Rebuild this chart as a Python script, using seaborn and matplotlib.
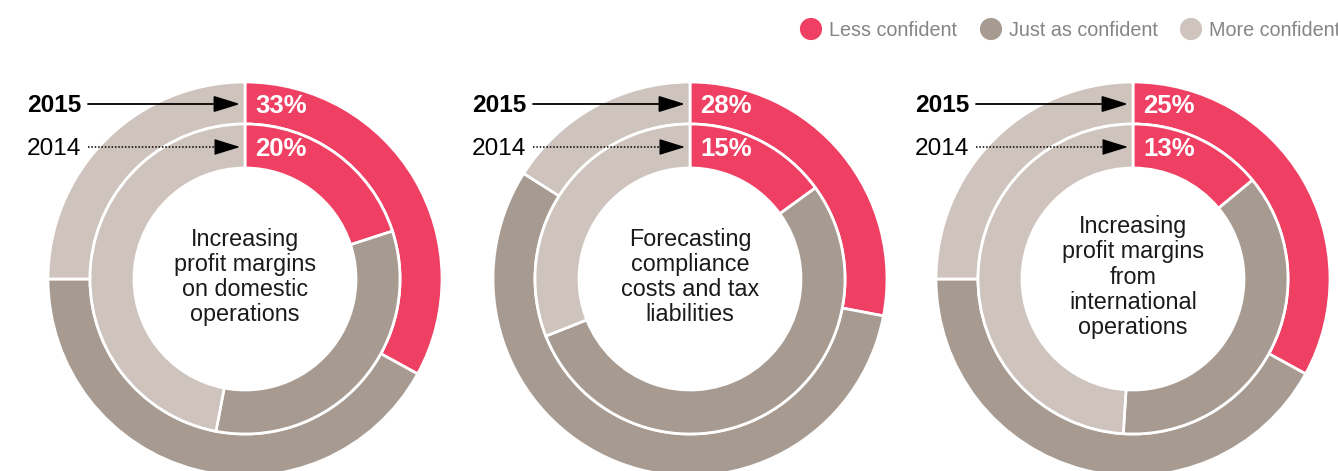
import matplotlib
matplotlib.use("Agg")
import matplotlib.pyplot as plt
import seaborn as sns

sns.set_theme(style="white")
plt.rcParams['font.family'] = ['Liberation Sans', 'DejaVu Sans']

# ---- data ----
categories = ["Less confident", "Just as confident", "More confident"]
colors = ["#EF3F62", "#A79B91", "#CEC3BD"]
titles = [
    "Increasing\nprofit margins\non domestic\noperations",
    "Forecasting\ncompliance\ncosts and tax\nliabilities",
    "Increasing\nprofit margins\nfrom\ninternational\noperations",
]
values_2015 = [[33, 42, 25], [28, 56, 16], [33, 42, 25]]
values_2014 = [[20, 33, 47], [15, 54, 31], [14, 37, 49]]
labels_2015 = ["33%", "28%", "25%"]
labels_2014 = ["20%", "15%", "13%"]
years = ["2015", "2014"]

W, H = 1338, 471
fig = plt.figure(figsize=(W / 100, H / 100), dpi=100)
ax = fig.add_axes([0, 0, 1, 1])

centers_x = [245, 690, 1133]
cy = H - 279
R_out, w_out = 197, 42
R_in, w_in = 155, 44

for i, cx in enumerate(centers_x):
    ax.pie(values_2015[i], colors=colors, radius=R_out, center=(cx, cy),
           startangle=90, counterclock=False,
           wedgeprops=dict(width=w_out, edgecolor="white", linewidth=2))
    ax.pie(values_2014[i], colors=colors, radius=R_in, center=(cx, cy),
           startangle=90, counterclock=False,
           wedgeprops=dict(width=w_in, edgecolor="white", linewidth=2))
    y15 = H - 104
    y14 = H - 147
    ax.text(cx + 10, y15 - 2, labels_2015[i], color="white", fontsize=18.5,
            fontweight="bold", ha="left", va="center")
    ax.text(cx + 10, y14 - 2, labels_2014[i], color="white", fontsize=18.5,
            fontweight="bold", ha="left", va="center")
    ax.text(cx, cy + 2, titles[i], color="#1a1a1a", fontsize=16.8,
            ha="center", va="center", linespacing=1.12)
    # year labels and arrows
    ax.text(cx - 218, y15 - 2, years[0], color="black", fontsize=17.6,
            fontweight="bold", ha="left", va="center")
    ax.text(cx - 218, y14 - 2, years[1], color="black", fontsize=17.6,
            ha="left", va="center")
    ax.annotate("", xy=(cx - 5, y15), xytext=(cx - 157, y15),
                arrowprops=dict(arrowstyle="-|>,head_length=0.9,head_width=0.28",
                                mutation_scale=18, color="black", lw=1.3,
                                shrinkA=0, shrinkB=0))
    ax.plot([cx - 157, cx - 20], [y14, y14], color="black", lw=1.1,
            linestyle=(0, (1, 1.2)))
    ax.annotate("", xy=(cx - 5, y14), xytext=(cx - 22, y14),
                arrowprops=dict(arrowstyle="-|>,head_length=0.9,head_width=0.28",
                                mutation_scale=18, color="black", lw=1.0,
                                shrinkA=0, shrinkB=0))

# legend
leg_x = [811, 991, 1191]
leg_y = H - 29
for x, c, lab in zip(leg_x, colors, categories):
    ax.scatter([x], [leg_y], s=255, color=c, edgecolor="none", zorder=5)
    ax.text(x + 18, leg_y - 1, lab, color="#858585", fontsize=14.2,
            ha="left", va="center")

ax.set_xlim(0, W)
ax.set_ylim(0, H)
ax.set_aspect("auto")
ax.axis("off")
fig.savefig("out.png", dpi=100, facecolor="white")
